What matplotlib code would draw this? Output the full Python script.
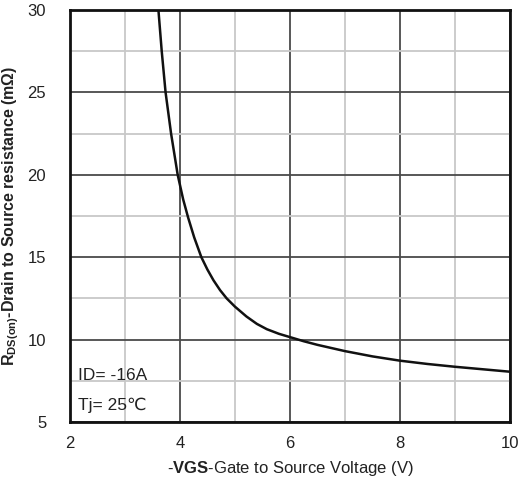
import numpy as np
import matplotlib
matplotlib.use('Agg')
import matplotlib.pyplot as plt

plt.rcParams['font.family'] = ['Liberation Sans', 'DejaVu Sans']
plt.rcParams['mathtext.fontset'] = 'custom'
plt.rcParams['mathtext.rm'] = 'Liberation Sans'
plt.rcParams['mathtext.bf'] = 'Liberation Sans:bold'

# curve
vgs = [3.61, 3.67, 3.74, 3.84, 3.96, 4.06, 4.15, 4.26, 4.39, 4.5, 4.61, 4.73, 4.85, 5.0,
       5.21, 5.4, 5.58, 5.8, 6.0, 6.25, 6.5, 7.0, 7.5, 8.0, 8.5, 9.0, 9.5, 10.0]
rds = [30.0, 27.5, 25.0, 22.5, 20.0, 18.5, 17.4, 16.2, 15.0, 14.25, 13.6, 13.0, 12.5, 12.0,
       11.4, 10.95, 10.63, 10.35, 10.15, 9.9, 9.68, 9.3, 8.98, 8.72, 8.52, 8.35, 8.2, 8.05]

xticks = [2, 4, 6, 8, 10]
yticks = [5, 10, 15, 20, 25, 30]
xminor = [3, 5, 7, 9]
yminor = [7.5, 12.5, 17.5, 22.5, 27.5]

fig = plt.figure(figsize=(5.21, 4.93), dpi=100)
ax = fig.add_axes([0.134, 0.144, 0.845, 0.836])

ax.set_xlim(2, 10)
ax.set_ylim(5, 30)
ax.set_xticks(xticks)
ax.set_yticks(yticks)
ax.set_xticks(xminor, minor=True)
ax.set_yticks(yminor, minor=True)
ax.grid(True, which='major', color='#4a4a4a', linewidth=1.3)
ax.grid(True, which='minor', color='#c8c8c8', linewidth=1.3)
ax.set_axisbelow(True)
ax.tick_params(which='both', length=0)
ax.tick_params(axis='x', pad=10, labelsize=12, labelcolor='#222222')
ax.tick_params(axis='y', pad=17, labelsize=12, labelcolor='#222222')
for s in ax.spines.values():
    s.set_linewidth(2)
    s.set_color('#111111')

ax.plot(vgs, rds, color='#111111', linewidth=1.8, solid_joinstyle='round')

ax.text(2.15, 7.85, 'ID= -16A', fontsize=12.5, va='center', color='#222222')
ax.text(2.15, 6.0, 'Tj= 25\u2103', fontsize=12.5, va='center', color='#222222')

ax.set_ylabel(r'$\mathbf{R}_{\mathbf{DS(on)}}$' + '-Drain to Source resistance (m\u03a9)',
              fontsize=11.5, fontweight='bold', color='#222222', labelpad=5)
ax.set_xlabel(r'$\mathbf{\text{-}VGS}$' + '-Gate to Source Voltage (V)', fontsize=12,
              color='#222222', labelpad=6)

fig.savefig('out.png', dpi=100)
